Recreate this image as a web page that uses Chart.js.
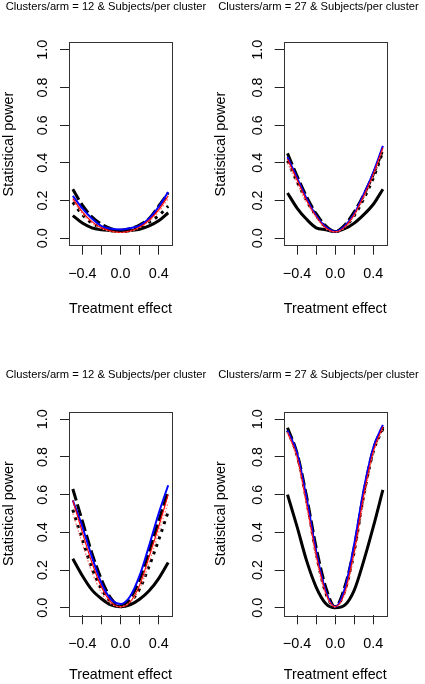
<!DOCTYPE html>
<html>
<head>
<meta charset="utf-8">
<script src="https://cdn.jsdelivr.net/npm/chart.js@4.4.1/dist/chart.umd.min.js"></script>
<style>
  body { margin: 0; background: #fff; width: 425px; height: 684px; position: relative; overflow: hidden; }
  canvas { position: absolute; }
</style>
</head>
<body>
<canvas id="c1" style="left:0;top:0"></canvas>
<canvas id="c2" style="left:212px;top:0"></canvas>
<canvas id="c3" style="left:0;top:342px"></canvas>
<canvas id="c4" style="left:212px;top:342px"></canvas>
<script>
// treatment effect grid
var effects = [-0.5, -0.4, -0.3, -0.2, -0.1, 0, 0.1, 0.2, 0.3, 0.4, 0.5];
var xTicks = [-0.4, -0.2, 0, 0.2, 0.4];
var xLabels = ['\u22120.4', '', '0.0', '', '0.4'];
var yTicks = [0, 0.2, 0.4, 0.6, 0.8, 1.0];
var yLabels = ['0.0', '0.2', '0.4', '0.6', '0.8', '1.0'];

var titles = [
  'Clusters/arm = 12 & Subjects/per cluster',
  'Clusters/arm = 27 & Subjects/per cluster',
  'Clusters/arm = 12 & Subjects/per cluster',
  'Clusters/arm = 27 & Subjects/per cluster'
];

// panel 1 (top left)
var p1Solid  = [0.12, 0.08, 0.055, 0.045, 0.04, 0.035, 0.04, 0.047, 0.065, 0.092, 0.135];
var p1Dashed = [0.26, 0.175, 0.113, 0.074, 0.05, 0.042, 0.05, 0.07, 0.104, 0.17, 0.24];
var p1Dotted = [0.19, 0.125, 0.08, 0.055, 0.042, 0.036, 0.042, 0.055, 0.085, 0.12, 0.17];
var p1Blue   = [0.225, 0.158, 0.104, 0.064, 0.05, 0.046, 0.053, 0.067, 0.104, 0.166, 0.245];
var p1Red    = [0.21, 0.14, 0.088, 0.055, 0.038, 0.03, 0.038, 0.058, 0.095, 0.15, 0.225];
var p1Pink   = [0.2, 0.13, 0.08, 0.05, 0.035, 0.03, 0.035, 0.055, 0.09, 0.14, 0.21];

// panel 2 (top right)
var p2Solid  = [0.24, 0.16, 0.1, 0.055, 0.045, 0.035, 0.05, 0.08, 0.125, 0.18, 0.26];
var p2Dashed = [0.45, 0.33, 0.22, 0.13, 0.065, 0.035, 0.07, 0.14, 0.23, 0.34, 0.47];
var p2Dotted = [0.41, 0.3, 0.2, 0.12, 0.06, 0.035, 0.06, 0.12, 0.21, 0.32, 0.46];
var p2Blue   = [0.43, 0.32, 0.21, 0.12, 0.06, 0.035, 0.065, 0.13, 0.235, 0.35, 0.49];
var p2Red    = [0.42, 0.31, 0.2, 0.115, 0.055, 0.033, 0.06, 0.125, 0.225, 0.34, 0.48];
var p2Pink   = [0.4, 0.29, 0.19, 0.11, 0.05, 0.033, 0.055, 0.12, 0.215, 0.33, 0.47];

// panel 3 (bottom left)
var p3Solid  = [0.26, 0.17, 0.095, 0.048, 0.015, 0.005, 0.015, 0.045, 0.09, 0.155, 0.24];
var p3Dashed = [0.63, 0.46, 0.29, 0.15, 0.05, 0.01, 0.05, 0.15, 0.3, 0.46, 0.62];
var p3Dotted = [0.52, 0.36, 0.21, 0.1, 0.03, 0.005, 0.03, 0.1, 0.22, 0.36, 0.51];
var p3Blue   = [0.57, 0.43, 0.27, 0.13, 0.045, 0.02, 0.06, 0.17, 0.33, 0.5, 0.65];
var p3Red    = [0.57, 0.4, 0.24, 0.11, 0.03, 0.005, 0.03, 0.12, 0.27, 0.43, 0.6];
var p3Pink   = [0.5, 0.34, 0.19, 0.08, 0.02, 0.005, 0.03, 0.1, 0.24, 0.4, 0.56];

// panel 4 (bottom right)
var p4Solid  = [0.6, 0.43, 0.25, 0.11, 0.023, 0.0, 0.014, 0.094, 0.25, 0.43, 0.625];
var p4Dashed = [0.955, 0.82, 0.59, 0.32, 0.11, 0.005, 0.11, 0.32, 0.61, 0.84, 0.96];
var p4Dotted = [0.94, 0.81, 0.57, 0.29, 0.08, 0.005, 0.09, 0.3, 0.6, 0.83, 0.95];
var p4Blue   = [0.94, 0.82, 0.58, 0.3, 0.09, 0.005, 0.1, 0.34, 0.63, 0.85, 0.97];
var p4Red    = [0.93, 0.8, 0.55, 0.28, 0.08, 0.005, 0.08, 0.3, 0.6, 0.83, 0.96];
var p4Pink   = [0.93, 0.79, 0.54, 0.26, 0.07, 0.005, 0.07, 0.28, 0.57, 0.82, 0.95];

var FONT = '"Liberation Sans", Arial, sans-serif';

// draws the R style box round the plot region
var boxPlugin = {
  id: 'box',
  afterDraw: function(chart) {
    var a = chart.chartArea, ctx = chart.ctx;
    ctx.save();
    ctx.strokeStyle = '#333';
    ctx.lineWidth = 1;
    ctx.strokeRect(Math.round(a.left) + 0.5, Math.round(a.top) + 0.5,
      Math.round(a.right - a.left), Math.round(a.bottom - a.top));
    ctx.restore();
  }
};

function line(data, color, width, dash) {
  return {
    data: data, borderColor: color, borderWidth: width, borderDash: dash || [],
    pointRadius: 0, fill: false, cubicInterpolationMode: 'monotone'
  };
}

function makePanel(id, w, h, g, title, s) {
  var canvas = document.getElementById(id);
  canvas.width = w; canvas.height = h;
  canvas.style.width = w + 'px'; canvas.style.height = h + 'px';
  var titleH = 11.2 * 1.2;
  new Chart(canvas.getContext('2d'), {
    type: 'line',
    data: {
      labels: effects,
      datasets: [
        line(s[5], '#ff6a6a', 1.2, [1.5, 2]),
        line(s[4], '#ff0000', 1.2),
        line(s[3], '#0000ff', 2),
        line(s[2], '#000', 3, [3, 5]),
        line(s[1], '#000', 3, [12, 4]),
        line(s[0], '#000', 3)
      ]
    },
    options: {
      responsive: false,
      animation: false,
      layout: { padding: { left: 0, right: 0, top: 0, bottom: g.padBottom } },
      plugins: {
        legend: { display: false },
        tooltip: { enabled: false },
        title: {
          display: true, text: title, color: '#000',
          font: { family: FONT, size: 11.2, weight: 'normal' },
          padding: { top: g.titleTop, bottom: g.top - g.titleTop - titleH }
        }
      },
      scales: {
        x: {
          type: 'linear', position: 'bottom', min: -0.54, max: 0.54,
          afterFit: function(sc) { sc.height = h - g.padBottom - g.bottom; },
          afterBuildTicks: function(sc) { sc.ticks = xTicks.map(function(v) { return { value: v }; }); },
          grid: { display: true, drawOnChartArea: false, drawTicks: true, tickLength: 9, tickColor: '#222' },
          border: { display: false },
          ticks: {
            color: '#000', font: { family: FONT, size: 14.4 }, padding: 11,
            autoSkip: false, maxRotation: 0,
            callback: function(v) { return xLabels[xTicks.indexOf(v)]; }
          },
          title: { display: true, text: 'Treatment effect', color: '#000', font: { family: FONT, size: 14.4 }, padding: 0 }
        },
        y: {
          position: 'left', min: -0.04, max: 1.04,
          afterFit: function(sc) { sc.width = g.left; },
          afterBuildTicks: function(sc) { sc.ticks = yTicks.map(function(v) { return { value: v }; }); },
          grid: { display: true, drawOnChartArea: false, drawTicks: true, tickLength: 9, tickColor: '#222' },
          border: { display: false },
          ticks: {
            color: '#000', font: { family: FONT, size: 14.4 }, padding: 7,
            minRotation: 90, maxRotation: 90, crossAlign: 'center',
            callback: function(v) { return yLabels[yTicks.indexOf(v)]; }
          },
          title: { display: true, text: 'Statistical power', color: '#000', font: { family: FONT, size: 14.4 }, padding: 0 }
        },
        y2: {
          position: 'right', min: 0, max: 1,
          afterFit: function(sc) { sc.width = w - g.right; },
          grid: { display: false }, border: { display: false },
          ticks: { display: false }
        }
      }
    },
    plugins: [boxPlugin]
  });
}

var topGeom = { titleTop: 0, top: 42.3, bottom: 245.7, padBottom: 24.4 };
var botGeom = { titleTop: 26.3, top: 69.7, bottom: 273.3, padBottom: 0 };

makePanel('c1', 212, 342, Object.assign({ left: 69, right: 172 }, topGeom), titles[0],
  [p1Solid, p1Dashed, p1Dotted, p1Blue, p1Red, p1Pink]);
makePanel('c2', 213, 342, Object.assign({ left: 71.7, right: 174.7 }, topGeom), titles[1],
  [p2Solid, p2Dashed, p2Dotted, p2Blue, p2Red, p2Pink]);
makePanel('c3', 212, 342, Object.assign({ left: 69, right: 172 }, botGeom), titles[2],
  [p3Solid, p3Dashed, p3Dotted, p3Blue, p3Red, p3Pink]);
makePanel('c4', 213, 342, Object.assign({ left: 71.7, right: 174.7 }, botGeom), titles[3],
  [p4Solid, p4Dashed, p4Dotted, p4Blue, p4Red, p4Pink]);
</script>
</body>
</html>
